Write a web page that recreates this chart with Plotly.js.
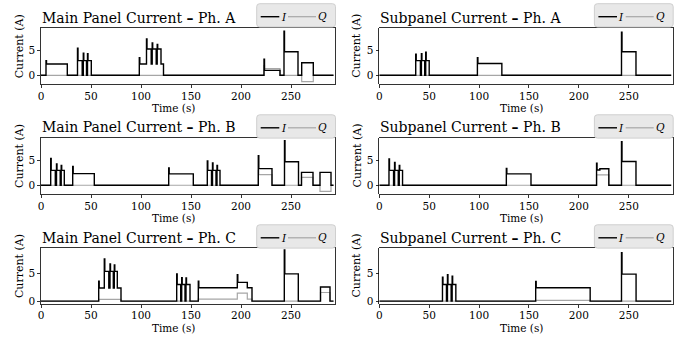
<!DOCTYPE html>
<html><head><meta charset="utf-8">
<script src="https://cdn.plot.ly/plotly-3.0.1.min.js"></script>
<style>html,body{margin:0;padding:0;background:#fff}#chart{width:683px;height:337px}</style>
</head><body><div id="chart"></div>
<script>
// ---------- data ----------
const panelTitles = [
  "Main Panel Current <b>–</b> Ph. A", "Subpanel Current <b>–</b> Ph. A",
  "Main Panel Current <b>–</b> Ph. B", "Subpanel Current <b>–</b> Ph. B",
  "Main Panel Current <b>–</b> Ph. C", "Subpanel Current <b>–</b> Ph. C"
];
const seriesNames = ["<i>I</i>", "<i>Q</i>"];
const xTickVals = [0, 50, 100, 150, 200, 250];
const yTickVals = [0, 5];
const xLabel = "Time (s)";
const yLabel = "Current (A)";

// Main panel, phase A
const mainA_t = [0, 5, 5.5, 26.3, 36.5, 37, 41.2, 42.3, 42.8, 45.5, 46.5, 47, 50.3, 98.3, 98.8, 105.5, 106, 110.2, 111.2, 111.7, 115.2, 116.2, 116.7, 120, 122.5, 223, 223.5, 239, 243, 243.5, 257, 260.7, 272.3, 292.5];
const mainA_I = [0, 3.0, 2.3, 0, 5.5, 3.0, 0, 4.5, 3.0, 0, 4.4, 3.0, 0, 3.6, 2.3, 7.4, 5.35, 2.3, 6.6, 5.35, 2.3, 6.3, 5.35, 2.3, 0, 3.3, 1.0, 0, 9.0, 4.8, 0, 2.55, 0, 0];
const mainA_Q = [0, 0, 0, 0, 0, 0, 0, 0, 0, 0, 0, 0, 0, 0, 0, 0, 0, 0, 0, 0, 0, 0, 0, 0, 0, 2.0, 1.35, 0, 0, 0, 0, -1.3, 0, 0];

// Subpanel, phase A
const subA_t = [0, 36.5, 37, 41.2, 42.2, 42.7, 45.5, 46.5, 47, 50, 98.3, 98.8, 122.8, 242.7, 243.2, 257.2, 292.5];
const subA_I = [0, 4.3, 3.0, 0, 4.4, 3.0, 0, 4.7, 3.0, 0, 3.6, 2.4, 0, 8.8, 4.8, 0, 0];
const subA_Q = [0, 0, 0, 0, 0, 0, 0, 0, 0, 0, 0, 0, 0, 0, 0, 0, 0];

// Main panel, phase B
const mainB_t = [0, 9.7, 10.2, 14.3, 15.5, 16, 19.2, 20.2, 20.7, 23.3, 31.7, 32.2, 53.3, 127.7, 128.2, 152.3, 166.3, 166.8, 170.5, 171.5, 172, 175, 176, 176.5, 179, 217.3, 217.8, 231, 243.5, 244, 257.5, 260.5, 272, 279, 290, 292.5];
const mainB_I = [0, 5.4, 3.0, 0, 4.3, 3.0, 0, 4.0, 3.0, 0, 3.8, 2.35, 0, 3.5, 2.3, 0, 4.9, 3.0, 0, 4.5, 3.0, 0, 4.0, 3.0, 0, 6.0, 3.37, 0, 9.0, 4.75, 0, 2.6, 0, 2.6, 0, 0];
const mainB_Q = [0, 0, 0, 0, 0, 0, 0, 0, 0, 0, 0, 0, 0, 0, 0, 0, 0, 0, 0, 0, 0, 0, 0, 0, 0, 3.0, 2.15, 0, 0, 0, 0, 1.6, 0, -1.25, 0, 0];

// Subpanel, phase B
const subB_t = [0, 9.7, 10.2, 14.3, 15.3, 15.8, 19, 20, 20.5, 23.3, 127.3, 127.8, 152, 217.7, 218.2, 221, 230, 242.7, 243.2, 257.2, 292.5];
const subB_I = [0, 5.3, 3.0, 0, 4.6, 3.0, 0, 4.0, 3.0, 0, 3.4, 2.3, 0, 4.45, 3.1, 3.35, 0, 8.8, 4.8, 0, 0];
const subB_Q = [0, 0, 0, 0, 0, 0, 0, 0, 0, 0, 0, 0, 0, 2.1, 2.1, 2.1, 0, 0, 0, 0, 0];

// Main panel, phase C
const mainC_t = [0, 57.7, 58.2, 63.3, 63.8, 67.8, 69, 69.5, 72.3, 73.3, 73.8, 76.3, 80, 135.7, 136.2, 139.7, 140.7, 141.2, 144, 145, 145.5, 149, 157.3, 157.8, 196.3, 196.8, 206.3, 211, 243.3, 243.8, 257.3, 279.5, 289, 292.5];
const mainC_I = [0, 3.6, 2.35, 7.6, 5.35, 2.35, 6.7, 5.35, 2.35, 6.5, 5.35, 2.35, 0, 4.9, 3.0, 0, 4.2, 3.0, 0, 4.15, 3.0, 0, 3.6, 2.4, 4.75, 3.37, 2.4, 0, 9.2, 4.9, 0, 2.55, 0, 0];
const mainC_Q = [0, 0.3, 0.3, 0.3, 0.3, 0.3, 0.3, 0.3, 0.3, 0.3, 0.3, 0.3, 0, 0, 0, 0, 0, 0, 0, 0, 0, 0, 0.35, 0.35, 1.45, 1.45, 0.35, 0, 0, 0, 0, 1.55, 0, 0];

// Subpanel, phase C
const subC_t = [0, 63.3, 63.8, 67.3, 68.3, 68.8, 72, 73, 73.5, 76.7, 156.7, 157.2, 211.3, 242.7, 243.2, 257.3, 292.5];
const subC_I = [0, 4.3, 3.0, 0, 4.75, 3.0, 0, 4.5, 3.0, 0, 3.55, 2.4, 0, 8.7, 4.85, 0, 0];
const subC_Q = [0, 0, 0, 0, 0, 0, 0, 0, 0, 0, 0.15, 0.15, 0, 0, 0, 0, 0];

// ---------- layout / drawing ----------
const panels = [
  {t: mainA_t, I: mainA_I, Q: mainA_Q},
  {t: subA_t,  I: subA_I,  Q: subA_Q},
  {t: mainB_t, I: mainB_I, Q: mainB_Q},
  {t: subB_t,  I: subB_I,  Q: subB_Q},
  {t: mainC_t, I: mainC_I, Q: mainC_Q},
  {t: subC_t,  I: subC_I,  Q: subC_Q}
];
const W = 683, H = 337;
const colPx = [[41, 335], [379.3, 672.7]];
const rowPx = [[28.3, 84.3], [137.7, 194.3], [248.3, 303.8]];
const rowRange = [[-1.83, 9.58], [-1.83, 9.62], [-0.48, 9.5]];
const legendTopPx = [3.7, 114.8, 224.8];
const xLabelCx = [173, 521];
const xLabelDy = 23.8;          // below the axes bottom
const yLabelCx = [19, 356.5];
const yLabelCyOff = -10;        // relative to the axes centre
const FONT = "DejaVu Serif";
const I_COLOR = "#000000", Q_COLOR = "#a6a6a6";
const TICK_SIZE = 10.5, XLABEL_SIZE = 10.5, YLABEL_SIZE = 11, TITLE_SIZE = 14;

const px = v => v / W;           // pixel -> paper x
const py = v => 1 - v / H;       // pixel -> paper y

const traces = [];
const layout = {
  width: W, height: H,
  margin: {l: 0, r: 0, t: 0, b: 0},
  paper_bgcolor: "#ffffff", plot_bgcolor: "#ffffff",
  font: {family: FONT, size: TICK_SIZE, color: "#000"},
  annotations: [], shapes: [],
  showlegend: false
};

function roundRect(x0, y0, x1, y1, r) {
  const P = (x, y) => px(x).toFixed(5) + "," + py(y).toFixed(5);
  return "M" + P(x0 + r, y0) + " L" + P(x1 - r, y0) + " Q" + P(x1, y0) + " " + P(x1, y0 + r) +
         " L" + P(x1, y1 - r) + " Q" + P(x1, y1) + " " + P(x1 - r, y1) +
         " L" + P(x0 + r, y1) + " Q" + P(x0, y1) + " " + P(x0, y1 - r) +
         " L" + P(x0, y0 + r) + " Q" + P(x0, y0) + " " + P(x0 + r, y0) + " Z";
}

panels.forEach((p, k) => {
  const r = Math.floor(k / 2), c = k % 2;
  const sfx = k === 0 ? "" : String(k + 1);
  const xa = "x" + sfx, ya = "y" + sfx;
  traces.push({
    x: p.t, y: p.Q, type: "scatter", mode: "lines", name: seriesNames[1],
    line: {color: Q_COLOR, width: 1.2, shape: "hv"},
    xaxis: xa, yaxis: ya, hoverinfo: "skip"
  });
  traces.push({
    x: p.t, y: p.I, type: "scatter", mode: "lines", name: seriesNames[0],
    line: {color: I_COLOR, width: 1.4, shape: "hv"},
    xaxis: xa, yaxis: ya, hoverinfo: "skip"
  });
  const dx = [colPx[c][0] / W, colPx[c][1] / W];
  const dy = [1 - rowPx[r][1] / H, 1 - rowPx[r][0] / H];
  layout["xaxis" + sfx] = {
    domain: dx, anchor: ya, range: [0, 294],
    tickvals: xTickVals, ticks: "outside", ticklen: 3, tickwidth: 0.8, tickcolor: "#000",
    ticklabelstandoff: -1,
    showline: true, linecolor: "#000", linewidth: 0.8, mirror: true,
    showgrid: false, zeroline: false,
    tickfont: {family: FONT, size: TICK_SIZE, color: "#000"}
  };
  layout["yaxis" + sfx] = {
    domain: dy, anchor: xa, range: rowRange[r],
    tickvals: yTickVals, ticks: "outside", ticklen: 3, tickwidth: 0.8, tickcolor: "#000",
    showline: true, linecolor: "#000", linewidth: 0.8, mirror: true,
    showgrid: false, zeroline: false,
    tickfont: {family: FONT, size: TICK_SIZE, color: "#000"}
  };
  // axis labels
  layout.annotations.push({
    text: xLabel, xref: "paper", yref: "paper",
    x: px(xLabelCx[c]), y: py(rowPx[r][1] + xLabelDy), xanchor: "center", yanchor: "middle",
    showarrow: false, borderpad: 0, font: {family: FONT, size: XLABEL_SIZE, color: "#000"}
  });
  layout.annotations.push({
    text: yLabel, xref: "paper", yref: "paper", textangle: -90,
    x: px(yLabelCx[c]), y: py((rowPx[r][0] + rowPx[r][1]) / 2 + yLabelCyOff),
    xanchor: "center", yanchor: "middle",
    showarrow: false, borderpad: 0, font: {family: FONT, size: YLABEL_SIZE, color: "#000"}
  });
  // panel title
  layout.annotations.push({
    text: panelTitles[k], xref: "paper", yref: "paper",
    x: dx[0], xanchor: "left", y: py(rowPx[r][0] - 1.5), yanchor: "bottom",
    showarrow: false, borderpad: 0,
    font: {family: FONT, size: TITLE_SIZE, color: "#000"}
  });
  // boxed legend, drawn like the reference's
  const R = colPx[c][1], T = legendTopPx[r];
  const ly = T + 13;
  layout.shapes.push({type: "path", xref: "paper", yref: "paper",
    path: roundRect(R - 78.3, T, R + 0.5, T + 23.3, 3),
    fillcolor: "#e8e8e8", line: {color: "#cfcfcf", width: 1}, layer: "above"});
  layout.shapes.push({type: "line", xref: "paper", yref: "paper",
    x0: px(R - 74.3), x1: px(R - 55.7), y0: py(ly), y1: py(ly),
    line: {color: I_COLOR, width: 1.4}, layer: "above"});
  layout.shapes.push({type: "line", xref: "paper", yref: "paper",
    x0: px(R - 47), x1: px(R - 19), y0: py(ly), y1: py(ly),
    line: {color: Q_COLOR, width: 1.2}, layer: "above"});
  layout.annotations.push({text: seriesNames[0], xref: "paper", yref: "paper",
    x: px(R - 51.3), y: py(ly), xanchor: "center", yanchor: "middle",
    showarrow: false, borderpad: 0, font: {family: FONT, size: 10.5, color: "#000"}});
  layout.annotations.push({text: seriesNames[1], xref: "paper", yref: "paper",
    x: px(R - 12.3), y: py(ly), xanchor: "center", yanchor: "middle",
    showarrow: false, borderpad: 0, font: {family: FONT, size: 10.5, color: "#000"}});
});

Plotly.newPlot("chart", traces, layout, {staticPlot: true, displayModeBar: false});
</script>
</body></html>
